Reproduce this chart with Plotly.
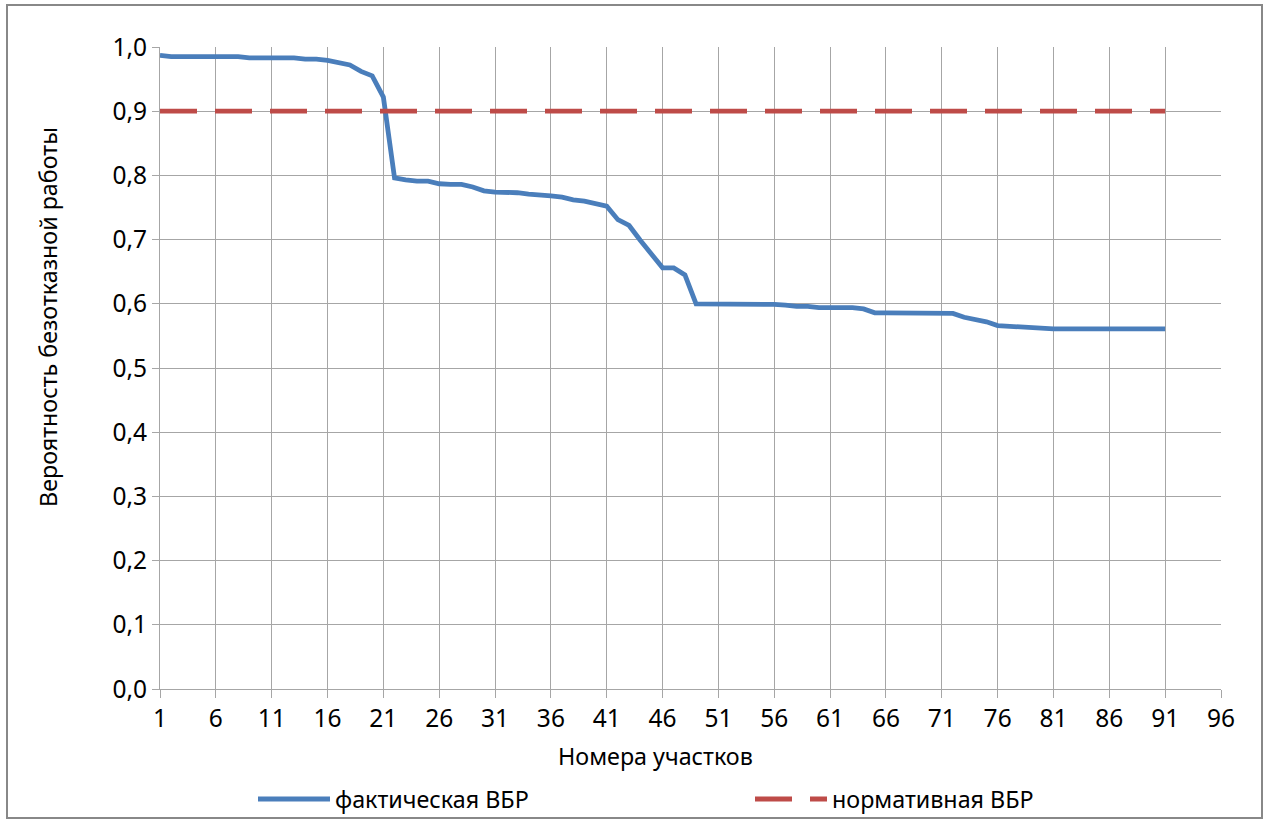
import plotly.graph_objects as go

sections = list(range(1, 92))
actual_pbr = [
    0.987, 0.985, 0.985, 0.985, 0.985, 0.985, 0.985, 0.985, 0.983, 0.983,
    0.983, 0.983, 0.983, 0.981, 0.981, 0.979, 0.976, 0.972, 0.962, 0.955,
    0.922, 0.796, 0.793, 0.791, 0.791, 0.787, 0.786, 0.786, 0.782, 0.776,
    0.774, 0.774, 0.773, 0.771, 0.770, 0.768, 0.766, 0.762, 0.760, 0.756,
    0.752, 0.731, 0.722, 0.699, 0.676, 0.656, 0.656, 0.645, 0.600, 0.600,
    0.600, 0.600, 0.599, 0.599, 0.599, 0.599, 0.598, 0.596, 0.596, 0.594,
    0.594, 0.594, 0.594, 0.592, 0.586, 0.586, 0.586, 0.585, 0.585, 0.585,
    0.585, 0.585, 0.579, 0.575, 0.572, 0.566, 0.565, 0.564, 0.563, 0.561,
    0.561, 0.561, 0.561, 0.561, 0.561, 0.561, 0.561, 0.561, 0.561, 0.561,
    0.561,
]
norm_value = 0.9
norm_pbr = [norm_value for _ in sections]

x_ticks = list(range(1, 97, 5))
y_ticks = [i / 10 for i in range(0, 11)]
y_ticktext = [f"{v:.1f}".replace(".", ",") for v in y_ticks]

series_names = ["фактическая ВБР", "нормативная ВБР"]
x_title = "Номера участков"
y_title = "Вероятность безотказной работы"

FONT = "Noto Sans"
GRID = "#a6a6a6"
BLUE = "#4a7ebb"
RED = "#be4b48"
DASH = "37px,18px"
TITLE_SIZE = 23.3
TICK_SIZE = 24.5
LW = 4.8

fig = go.Figure()
fig.add_trace(go.Scatter(
    x=sections, y=actual_pbr, mode="lines", name=series_names[0],
    line=dict(color=BLUE, width=LW), showlegend=False,
))
fig.add_trace(go.Scatter(
    x=sections, y=norm_pbr, mode="lines", name=series_names[1],
    line=dict(color=RED, width=LW, dash=DASH), showlegend=False,
))

W, H = 1268, 825
SL, SR, ST, SB = 160, 1221, 47, 689  # plot area in screen pixels
L, T = SL, ST
R = W - SR
B = H - SB
pw, ph = W - L - R, H - T - B


def px_x(p):
    return (p - L) / pw


def px_y(p):
    return (H - B - p) / ph


legend_y = px_y(799)
fig.update_layout(
    width=W, height=H,
    margin=dict(l=L, r=R, t=T, b=B, autoexpand=False),
    paper_bgcolor="white", plot_bgcolor="white",
    font=dict(family=FONT, size=TITLE_SIZE, color="#000000"),
    showlegend=False,
    xaxis=dict(
        range=[1, 96], tickmode="array", tickvals=x_ticks,
        showgrid=True, gridcolor=GRID, gridwidth=1,
        showline=True, linecolor=GRID, linewidth=1,
        ticks="outside", ticklen=8, tickcolor=GRID,
        tickfont=dict(family=FONT, size=TICK_SIZE), zeroline=False,
        automargin=False,
    ),
    yaxis=dict(
        range=[0, 1], tickmode="array", tickvals=y_ticks, ticktext=y_ticktext,
        showgrid=True, gridcolor=GRID, gridwidth=1,
        showline=True, linecolor=GRID, linewidth=1,
        ticks="outside", ticklen=7, tickcolor=GRID,
        tickfont=dict(family=FONT, size=TICK_SIZE), zeroline=False,
        automargin=False,
    ),
    annotations=[
        dict(text=x_title, xref="paper", yref="paper",
             x=px_x(655), y=px_y(756), xanchor="center", yanchor="middle",
             showarrow=False, font=dict(family=FONT, size=TITLE_SIZE)),
        dict(text=y_title, xref="paper", yref="paper", textangle=-90,
             x=px_x(48), y=px_y(317), xanchor="center", yanchor="middle",
             showarrow=False, font=dict(family=FONT, size=TITLE_SIZE)),
        dict(text=series_names[0], xref="paper", yref="paper",
             x=px_x(333), y=legend_y, xanchor="left", yanchor="middle",
             showarrow=False, font=dict(family=FONT, size=TITLE_SIZE)),
        dict(text=series_names[1], xref="paper", yref="paper",
             x=px_x(830), y=legend_y, xanchor="left", yanchor="middle",
             showarrow=False, font=dict(family=FONT, size=TITLE_SIZE)),
    ],
    shapes=[
        dict(type="rect", xref="paper", yref="paper",
             x0=px_x(7), x1=px_x(1262), y0=px_y(818), y1=px_y(5),
             line=dict(color="#888888", width=2), fillcolor="rgba(0,0,0,0)",
             layer="below"),
        dict(type="line", xref="paper", yref="paper",
             x0=px_x(258), x1=px_x(330), y0=legend_y, y1=legend_y,
             line=dict(color=BLUE, width=LW)),
        dict(type="line", xref="paper", yref="paper",
             x0=px_x(755), x1=px_x(827), y0=legend_y, y1=legend_y,
             line=dict(color=RED, width=LW, dash=DASH)),
    ],
)

fig.write_html(
    "out.html",
    config={"displayModeBar": False},
    post_script="document.body.style.margin='0';document.body.style.overflow='hidden';",
)
